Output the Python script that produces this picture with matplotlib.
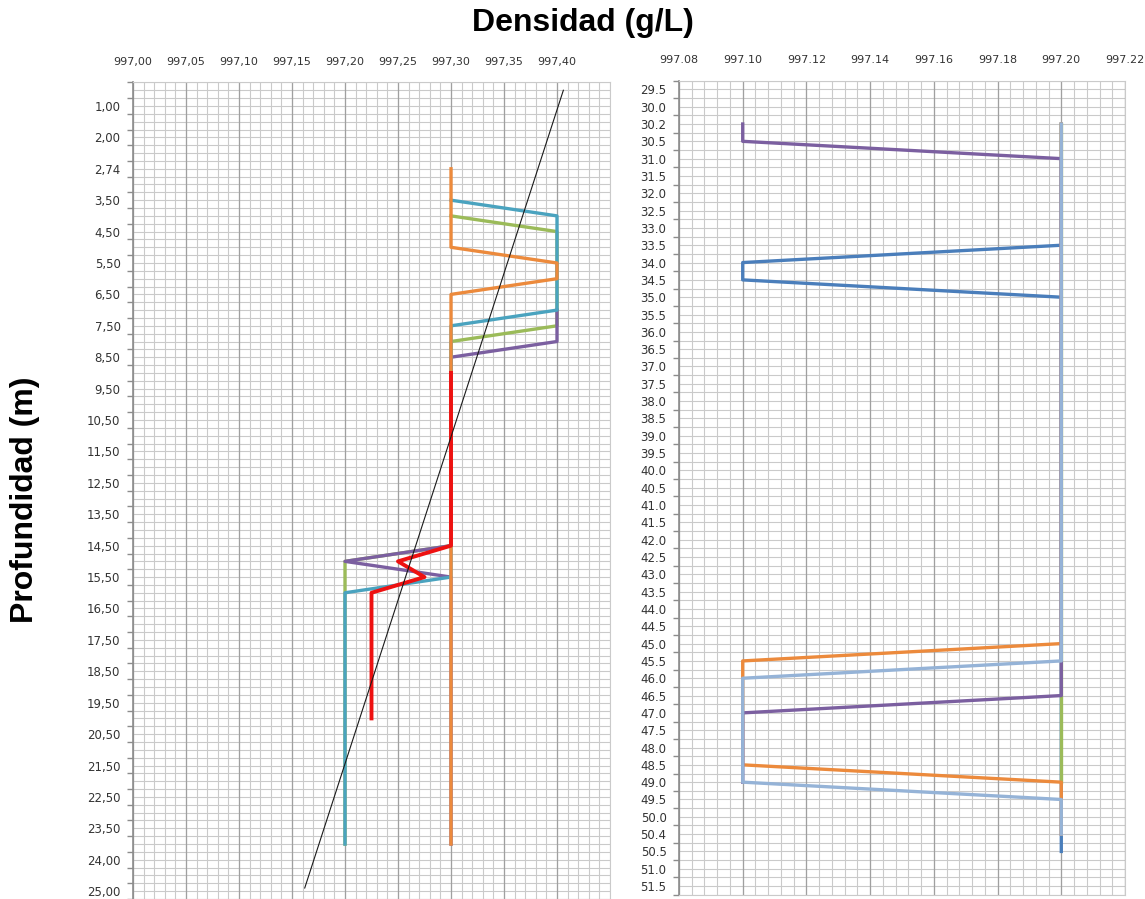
import matplotlib
matplotlib.use('Agg')
import matplotlib.pyplot as plt
import numpy as np
from matplotlib.ticker import FixedLocator

# ---------------- data ----------------
# Left panel: depth categories (52 rows, label shown on every second row)
left_depth_labels = ['1,00', '2,00', '2,74', '3,50', '4,50', '5,50', '6,50', '7,50', '8,50',
                     '9,50', '10,50', '11,50', '12,50', '13,50', '14,50', '15,50', '16,50',
                     '17,50', '18,50', '19,50', '20,50', '21,50', '22,50', '23,50', '24,00', '25,00']
left_n_rows = 52
left_x_ticks = [997.00, 997.05, 997.10, 997.15, 997.20, 997.25, 997.30, 997.35, 997.40]

# series: density (g/L) vs depth row index
L_green_x = [997.30, 997.40, 997.40, 997.30, 997.30, 997.20, 997.20]
L_green_y = [8, 9, 15, 16, 29, 30, 48]
L_purple_x = [997.40, 997.40, 997.30, 997.30, 997.20, 997.30, 997.30]
L_purple_y = [14, 16, 17, 29, 30, 31, 48]
L_teal_x = [997.30, 997.40, 997.40, 997.30, 997.30, 997.20, 997.20]
L_teal_y = [7, 8, 14, 15, 31, 32, 48]
L_orange_x = [997.30, 997.30, 997.40, 997.40, 997.30, 997.30]
L_orange_y = [5, 10, 11, 12, 13, 48]
L_red_x = [997.30, 997.30, 997.25, 997.275, 997.225, 997.225]
L_red_y = [18, 29, 30, 31, 32, 40]
L_trend_x = [997.406, 997.162]
L_trend_y = [0.0, 50.8]

# Right panel: depth categories (47 rows)
right_depth_labels = ['29.5', '30.0', '30.2', '30.5', '31.0', '31.5', '32.0', '32.5', '33.0', '33.5',
                      '34.0', '34.5', '35.0', '35.5', '36.0', '36.5', '37.0', '37.5', '38.0', '38.5',
                      '39.0', '39.5', '40.0', '40.5', '41.0', '41.5', '42.0', '42.5', '43.0', '43.5',
                      '44.0', '44.5', '45.0', '45.5', '46.0', '46.5', '47.0', '47.5', '48.0', '48.5',
                      '49.0', '49.5', '50.0', '50.4', '50.5', '51.0', '51.5']
right_x_ticks = [997.08, 997.10, 997.12, 997.14, 997.16, 997.18, 997.20, 997.22]

R_darkblue_x = [997.20, 997.20, 997.10, 997.10, 997.20, 997.20]
R_darkblue_y = [2, 9, 10, 11, 12, 44]
R_green_x = [997.20, 997.20]
R_green_y = [2, 40]
R_orange_x = [997.20, 997.20, 997.10, 997.10, 997.20, 997.20]
R_orange_y = [2, 32, 33, 39, 40, 43]
R_purple_x = [997.10, 997.10, 997.20, 997.20, 997.10, 997.10]
R_purple_y = [2, 3, 4, 35, 36, 40]
R_lightblue_x = [997.20, 997.20, 997.10, 997.10, 997.20, 997.20]
R_lightblue_y = [2, 33, 34, 40, 41, 43]

# ---------------- styling ----------------
C_GREEN = '#9BBB59'
C_PURPLE = '#7B5FA0'
C_TEAL = '#4AA3BF'
C_ORANGE = '#EC8A3C'
C_RED = '#EE1111'
C_DBLUE = '#4A7EBB'
C_LBLUE = '#95B3D7'
GRID_MINOR = '#CACACA'
GRID_MAJOR = '#A0A0A0'
AXIS_C = '#8C8C8C'
LW = 2.4

fig = plt.figure(figsize=(11.45, 8.99), dpi=100)


def setup(ax, x0, x1, xstep_minor, xticks, nrows, fmt, ylabels, ypos, fs=8):
    ax.set_xlim(x0, x1)
    ax.set_ylim(nrows - 0.5, -0.5)
    nmin = int(round((x1 - x0) / xstep_minor))
    for i in range(nmin + 1):
        ax.axvline(x0 + i * xstep_minor, color=GRID_MINOR, lw=0.8, zorder=0)
    for xv in xticks:
        ax.axvline(xv, color=GRID_MAJOR, lw=0.9, zorder=0.5)
    for k in range(2 * nrows + 1):
        ax.axhline(-0.5 + 0.5 * k, color=GRID_MINOR, lw=0.8, zorder=0)
    ax.xaxis.tick_top()
    ax.set_xticks(xticks)
    ax.set_xticklabels([fmt(v) for v in xticks], fontsize=fs, color='#333333')
    ax.tick_params(axis='x', length=0, pad=11)
    ax.set_yticks(ypos)
    ax.set_yticklabels(ylabels, fontsize=fs + 0.5, color='#333333')
    ax.yaxis.set_minor_locator(FixedLocator(np.arange(-0.5, nrows, 1.0)))
    ax.tick_params(axis='y', which='major', length=0, pad=9)
    ax.tick_params(axis='y', which='minor', length=4, color=AXIS_C, width=1)
    for s in ['top', 'right', 'bottom']:
        ax.spines[s].set_color(GRID_MINOR)
        ax.spines[s].set_linewidth(0.8)
    ax.spines['left'].set_color(AXIS_C)
    ax.spines['left'].set_linewidth(1.2)


# ---- left panel ----
axL = fig.add_axes([133 / 1145, 0.0, (610 - 133) / 1145, 1 - 82.4 / 899])
setup(axL, 997.00, 997.45, 0.01, left_x_ticks, left_n_rows,
      lambda v: f"{v:.2f}".replace('.', ','), left_depth_labels,
      list(range(1, left_n_rows, 2)))
axL.plot(L_green_x, L_green_y, color=C_GREEN, lw=LW, zorder=3)
axL.plot(L_purple_x, L_purple_y, color=C_PURPLE, lw=LW, zorder=4)
axL.plot(L_teal_x, L_teal_y, color=C_TEAL, lw=LW, zorder=5)
axL.plot(L_orange_x, L_orange_y, color=C_ORANGE, lw=LW, zorder=6)
axL.plot(L_red_x, L_red_y, color=C_RED, lw=LW + 0.4, zorder=7)
axL.plot(L_trend_x, L_trend_y, color='#1a1a1a', lw=0.8, zorder=8)

# ---- right panel ----
nR = len(right_depth_labels)
rtop = 80.7
rbot = rtop + nR * 17.32
axR = fig.add_axes([679 / 1145, 1 - rbot / 899, (1125 - 679) / 1145, (rbot - rtop) / 899])
setup(axR, 997.08, 997.22, 0.004, right_x_ticks, nR,
      lambda v: f"{v:.2f}", right_depth_labels, list(range(nR)))
axR.plot(R_darkblue_x, R_darkblue_y, color=C_DBLUE, lw=LW, zorder=3)
axR.plot(R_green_x, R_green_y, color=C_GREEN, lw=LW, zorder=4)
axR.plot(R_orange_x, R_orange_y, color=C_ORANGE, lw=LW, zorder=5)
axR.plot(R_purple_x, R_purple_y, color=C_PURPLE, lw=LW, zorder=6)
axR.plot(R_lightblue_x, R_lightblue_y, color=C_LBLUE, lw=LW, zorder=7)

# ---- titles ----
fig.text(583 / 1145, 1 - 23 / 899, 'Densidad (g/L)', ha='center', va='center',
         fontsize=23, fontweight='bold', family='Liberation Sans')
fig.text(25 / 1145, 1 - 500 / 899, 'Profundidad (m)', ha='center', va='center',
         rotation=90, fontsize=23, fontweight='bold', family='Liberation Sans')

fig.savefig('out.png', dpi=100, facecolor='white')
